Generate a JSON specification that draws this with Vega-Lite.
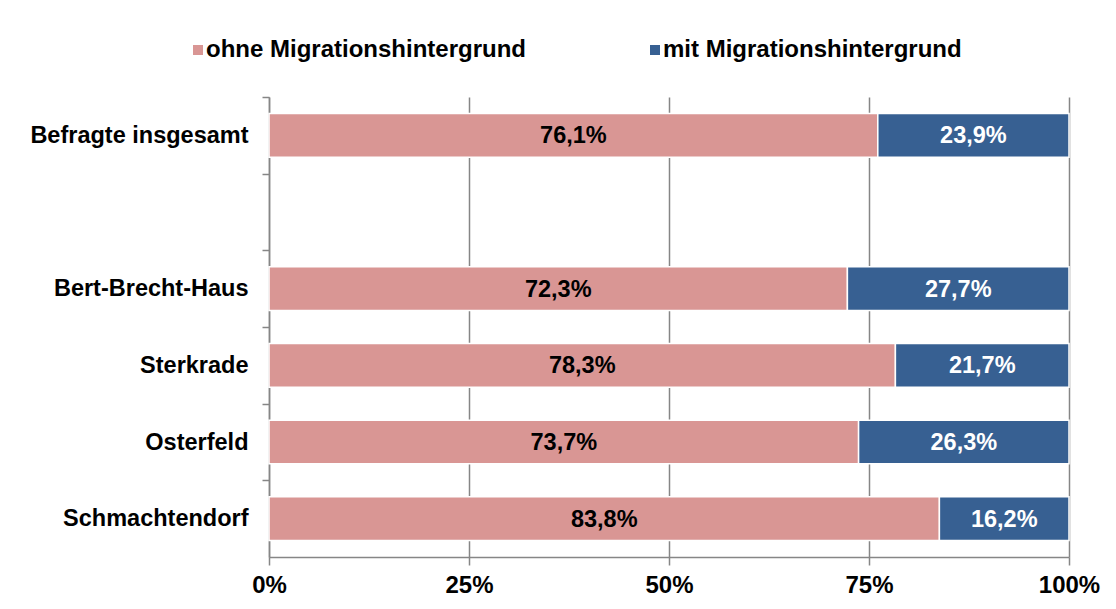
{
  "$schema": "https://vega.github.io/schema/vega-lite/v6.json",
  "autosize": "none",
  "width": 800,
  "height": 460,
  "padding": {"left": 269, "top": 97, "right": 47, "bottom": 52},
  "background": "white",
  "config": {
    "locale": {"number": {"decimal": ",", "thousands": ".", "grouping": [3], "currency": ["", " €"]}},
    "font": "Liberation Sans",
    "view": {"stroke": null}
  },
  "data": {
    "values": [
      {"cat": "Befragte insgesamt", "series": "ohne Migrationshintergrund", "value": 0.761},
      {"cat": "Befragte insgesamt", "series": "mit Migrationshintergrund", "value": 0.239},
      {"cat": "Bert-Brecht-Haus", "series": "ohne Migrationshintergrund", "value": 0.723},
      {"cat": "Bert-Brecht-Haus", "series": "mit Migrationshintergrund", "value": 0.277},
      {"cat": "Sterkrade", "series": "ohne Migrationshintergrund", "value": 0.783},
      {"cat": "Sterkrade", "series": "mit Migrationshintergrund", "value": 0.217},
      {"cat": "Osterfeld", "series": "ohne Migrationshintergrund", "value": 0.737},
      {"cat": "Osterfeld", "series": "mit Migrationshintergrund", "value": 0.263},
      {"cat": "Schmachtendorf", "series": "ohne Migrationshintergrund", "value": 0.838},
      {"cat": "Schmachtendorf", "series": "mit Migrationshintergrund", "value": 0.162}
    ]
  },
  "transform": [
    {"stack": "value", "groupby": ["cat"], "sort": [{"field": "series", "order": "descending"}], "as": ["v0", "v1"]},
    {"calculate": "(datum.v0 + datum.v1) / 2", "as": "mid"}
  ],
  "encoding": {
    "y": {
      "field": "cat",
      "type": "nominal",
      "title": null,
      "scale": {
        "domain": ["Befragte insgesamt", " ", "Bert-Brecht-Haus", "Sterkrade", "Osterfeld", "Schmachtendorf"],
        "paddingInner": 0.43,
        "paddingOuter": 0.215
      },
      "axis": {
        "tickOffset": -38.33,
        "labelOffset": 38.33,
        "tickSize": 7,
        "tickColor": "#868686",
        "tickWidth": 1.5,
        "domainColor": "#868686",
        "domainWidth": 1.5,
        "labelFont": "Liberation Sans",
        "labelFontWeight": "bold",
        "labelFontSize": 23.5,
        "labelColor": "black",
        "labelPadding": 14,
        "labelLimit": 400,
        "grid": false
      }
    }
  },
  "layer": [
    {
      "mark": {"type": "bar", "stroke": "white", "strokeWidth": 1.5},
      "encoding": {
        "x": {
          "field": "v0",
          "type": "quantitative",
          "title": null,
          "scale": {"domain": [0, 1], "nice": false},
          "axis": {
            "values": [0, 0.25, 0.5, 0.75, 1],
            "format": "%",
            "grid": true,
            "gridColor": "#868686",
            "gridWidth": 1.5,
            "tickSize": 8,
            "tickColor": "#868686",
            "tickWidth": 1.5,
            "domainColor": "#868686",
            "domainWidth": 1.5,
            "labelFont": "Liberation Sans",
            "labelFontWeight": "bold",
            "labelFontSize": 24,
            "labelColor": "black",
            "labelPadding": 8,
            "labelFlush": false
          }
        },
        "x2": {"field": "v1"},
        "color": {
          "field": "series",
          "type": "nominal",
          "scale": {
            "domain": ["ohne Migrationshintergrund", "mit Migrationshintergrund"],
            "range": ["#D99694", "#376092"]
          },
          "legend": {
            "title": null,
            "orient": "none",
            "direction": "horizontal",
            "legendX": -83,
            "legendY": -59,
            "padding": 0,
            "symbolType": "square",
            "symbolSize": 100,
            "symbolStrokeWidth": 0,
            "labelOffset": -4,
            "columnPadding": 117,
            "labelFont": "Liberation Sans",
            "labelFontWeight": "bold",
            "labelFontSize": 24,
            "labelColor": "black",
            "labelLimit": 500
          }
        }
      }
    },
    {
      "mark": {"type": "text", "font": "Liberation Sans", "fontWeight": "bold", "fontSize": 23.5, "baseline": "middle", "align": "center", "dy": 1},
      "encoding": {
        "x": {"field": "mid", "type": "quantitative"},
        "text": {"field": "value", "type": "quantitative", "format": ".1%"},
        "color": {
          "condition": {"test": "datum.series === 'mit Migrationshintergrund'", "value": "white"},
          "value": "black"
        }
      }
    }
  ]
}
